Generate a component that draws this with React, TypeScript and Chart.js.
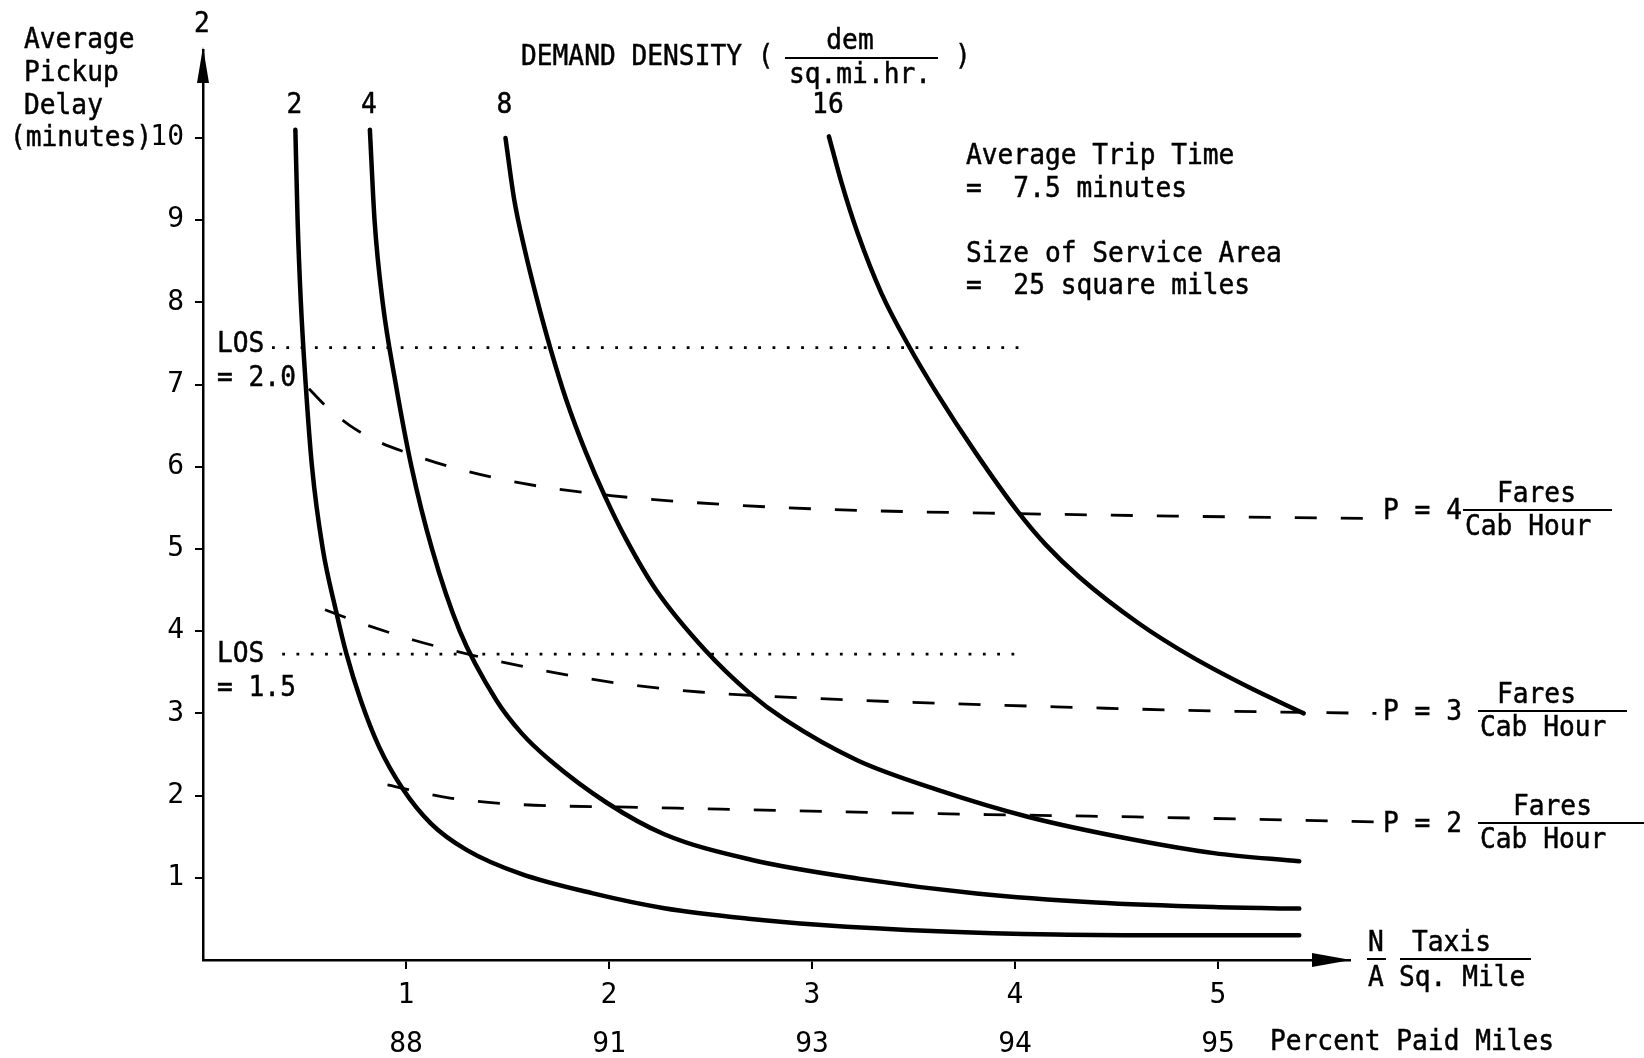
import React, { useEffect, useRef } from 'react';
import { Chart, registerables } from 'chart.js';

Chart.register(...registerables);

// ---- Data (taxis per sq. mile vs average pickup delay, minutes) ----
const D2_X = [0.455, 0.466, 0.482, 0.506, 0.537, 0.59, 0.655, 0.706, 0.777, 0.868, 0.982, 1.123, 1.298, 1.563, 1.921, 2.272, 2.70, 3.03, 3.62, 4.20, 4.79, 5.40];
const D2_Y = [10.1, 9.0, 8.0, 7.0, 6.0, 5.0, 4.25, 3.73, 3.16, 2.59, 2.09, 1.66, 1.34, 1.05, 0.81, 0.63, 0.50, 0.43, 0.35, 0.31, 0.30, 0.30];

const D4_X = [0.822, 0.845, 0.885, 0.950, 1.027, 1.128, 1.265, 1.445, 1.569, 1.709, 1.991, 2.272, 2.70, 3.23, 3.81, 4.40, 4.98, 5.40];
const D4_Y = [10.1, 9.0, 8.0, 7.0, 6.0, 5.0, 4.0, 3.16, 2.76, 2.43, 1.91, 1.53, 1.22, 0.99, 0.81, 0.70, 0.645, 0.625];

const D8_X = [1.49, 1.533, 1.585, 1.646, 1.709, 1.790, 1.882, 1.980, 2.086, 2.232, 2.473, 2.691, 2.869, 3.222, 3.619, 4.067, 4.593, 4.98, 5.40];
const D8_Y = [10.0, 9.25, 8.64, 8.03, 7.46, 6.81, 6.20, 5.64, 5.11, 4.50, 3.77, 3.25, 2.92, 2.43, 2.07, 1.74, 1.46, 1.30, 1.20];

const D16_X = [3.083, 3.146, 3.225, 3.342, 3.479, 3.616, 3.809, 4.009, 4.152, 4.316, 4.607, 4.869, 5.150, 5.422];
const D16_Y = [10.02, 9.45, 8.84, 8.11, 7.46, 6.89, 6.16, 5.47, 5.05, 4.66, 4.10, 3.69, 3.32, 3.00];

const P4_X = [0.522, 0.60, 0.724, 0.86, 1.005, 1.217, 1.569, 2.008, 2.645, 3.23, 4.008, 4.787, 5.75];
const P4_Y = [6.95, 6.75, 6.50, 6.31, 6.17, 6.00, 5.80, 5.65, 5.53, 5.47, 5.43, 5.40, 5.37];

const P3_X = [0.601, 0.777, 1.04, 1.393, 1.744, 2.096, 2.448, 2.70, 3.424, 4.20, 4.98, 5.78];
const P3_Y = [4.26, 4.10, 3.89, 3.67, 3.49, 3.35, 3.26, 3.22, 3.14, 3.08, 3.03, 3.00];

const P2_X = [0.909, 1.217, 1.569, 2.096, 2.645, 3.619, 4.593, 5.78];
const P2_Y = [2.13, 1.97, 1.89, 1.86, 1.83, 1.78, 1.74, 1.68];

const LOS20_X = [0.34, 4.03];
const LOS20_Y = [7.45, 7.45];
const LOS15_X = [0.39, 4.05];
const LOS15_Y = [3.72, 3.72];

const Y_TICKS = [1, 2, 3, 4, 5, 6, 7, 8, 9, 10];
const X_TICKS = [1, 2, 3, 4, 5];
const PERCENT_PAID = ['88', '91', '93', '94', '95'];
const DEMAND_LABELS = ['2', '4', '8', '16'];
const FARE_LEVELS = ['4', '3', '2'];

const FONT = '"DejaVu Sans Mono", monospace';

const zip = (xs: number[], ys: number[]) => xs.map((x, i) => ({ x, y: ys[i] }));

const solid = (label: string, xs: number[], ys: number[]) => ({
  label,
  data: zip(xs, ys),
  borderColor: '#000',
  borderWidth: 4.5,
  pointRadius: 0,
  fill: false,
  clip: false as const,
  cubicInterpolationMode: 'monotone' as const,
  borderCapStyle: 'round' as const,
});

const dashed = (label: string, xs: number[], ys: number[]) => ({
  label,
  data: zip(xs, ys),
  borderColor: '#000',
  borderWidth: 2.8,
  borderDash: [22, 24],
  pointRadius: 0,
  fill: false,
  clip: false as const,
  cubicInterpolationMode: 'monotone' as const,
});

const dotted = (label: string, xs: number[], ys: number[]) => ({
  label,
  data: zip(xs, ys),
  borderColor: '#000',
  borderWidth: 2.8,
  borderDash: [2.8, 11.5],
  pointRadius: 0,
  fill: false,
  clip: false as const,
  tension: 0,
});

function drawText(ctx: CanvasRenderingContext2D, s: string, x: number, y: number, align: CanvasTextAlign = 'left') {
  ctx.save();
  ctx.font = `28.5px ${FONT}`;
  ctx.textBaseline = 'middle';
  ctx.textAlign = align;
  ctx.fillStyle = '#000';
  ctx.strokeStyle = '#000';
  ctx.lineWidth = 0.5;
  ctx.translate(x, y + 2);
  ctx.scale(0.92, 1);
  ctx.fillText(s, 0, 0);
  ctx.strokeText(s, 0, 0);
  ctx.restore();
}

function hline(ctx: CanvasRenderingContext2D, x1: number, x2: number, y: number, w = 2) {
  ctx.save();
  ctx.strokeStyle = '#000';
  ctx.lineWidth = w;
  ctx.beginPath();
  ctx.moveTo(x1, y);
  ctx.lineTo(x2, y);
  ctx.stroke();
  ctx.restore();
}

const annotations = {
  id: 'annotations',
  afterDraw(chart: any) {
    const { ctx, chartArea, scales } = chart;
    const { left, right, top, bottom } = chartArea;
    const xs = scales.x;
    ctx.save();
    ctx.fillStyle = '#000';
    // arrowheads
    ctx.beginPath();
    ctx.moveTo(left, top - 3);
    ctx.lineTo(left - 6, top + 33);
    ctx.lineTo(left + 6, top + 33);
    ctx.closePath();
    ctx.fill();
    ctx.beginPath();
    ctx.moveTo(right + 1, bottom);
    ctx.lineTo(right - 38, bottom - 7);
    ctx.lineTo(right - 38, bottom + 7);
    ctx.closePath();
    ctx.fill();
    ctx.restore();

    // y-axis title
    drawText(ctx, '2', 202, 23, 'center');
    drawText(ctx, 'Average', 24, 39);
    drawText(ctx, 'Pickup', 24, 72);
    drawText(ctx, 'Delay', 24, 105);
    drawText(ctx, '(minutes)', 10, 137);

    // demand density header
    drawText(ctx, 'DEMAND DENSITY (', 521, 56);
    drawText(ctx, 'dem', 850, 40, 'center');
    hline(ctx, 785, 938, 58);
    drawText(ctx, 'sq.mi.hr.', 860, 74, 'center');
    drawText(ctx, ')', 955, 56);

    // curve labels
    const firstX = [D2_X[0], D4_X[0], D8_X[0], D16_X[0]];
    DEMAND_LABELS.forEach((lab, i) => {
      drawText(ctx, lab, xs.getPixelForValue(firstX[i]) - 1, 104, 'center');
    });

    // notes
    drawText(ctx, 'Average Trip Time', 966, 155);
    drawText(ctx, '=  7.5 minutes', 966, 188);
    drawText(ctx, 'Size of Service Area', 966, 253);
    drawText(ctx, '=  25 square miles', 966, 285);

    // LOS labels
    drawText(ctx, 'LOS', 217, 343);
    drawText(ctx, '= 2.0', 217, 377);
    drawText(ctx, 'LOS', 217, 653);
    drawText(ctx, '= 1.5', 217, 687);

    // fare labels
    const fareRows = [
      { y: 510, lineX: [1463, 1612], faresX: 1497, cabX: 1465 },
      { y: 711, lineX: [1478, 1627], faresX: 1497, cabX: 1480 },
      { y: 823, lineX: [1478, 1644], faresX: 1513, cabX: 1480 },
    ];
    fareRows.forEach((r, i) => {
      drawText(ctx, `P = ${FARE_LEVELS[i]}`, 1383, r.y);
      hline(ctx, r.lineX[0], r.lineX[1], r.y, 2);
      drawText(ctx, 'Fares', r.faresX, r.y - 17);
      drawText(ctx, 'Cab Hour', r.cabX, r.y + 16);
    });

    // x-axis title
    drawText(ctx, 'N', 1376, 942, 'center');
    hline(ctx, 1367, 1386, 959, 2);
    drawText(ctx, 'A', 1376, 977, 'center');
    drawText(ctx, 'Taxis', 1412, 942);
    hline(ctx, 1400, 1531, 959, 2);
    drawText(ctx, 'Sq. Mile', 1399, 977);
    drawText(ctx, 'Percent Paid Miles', 1270, 1041);
  },
};

export default function App() {
  const ref = useRef<HTMLCanvasElement | null>(null);

  useEffect(() => {
    if (!ref.current) return;
    const chart = new Chart(ref.current, {
      type: 'line',
      data: {
        datasets: [
          solid('2', D2_X, D2_Y),
          solid('4', D4_X, D4_Y),
          solid('8', D8_X, D8_Y),
          solid('16', D16_X, D16_Y),
          dashed('P = 4', P4_X, P4_Y),
          dashed('P = 3', P3_X, P3_Y),
          dashed('P = 2', P2_X, P2_Y),
          dotted('LOS = 2.0', LOS20_X, LOS20_Y),
          dotted('LOS = 1.5', LOS15_X, LOS15_Y),
        ] as any,
      },
      options: {
        responsive: false,
        maintainAspectRatio: false,
        animation: false,
        events: [],
        layout: { padding: { left: 0, right: 294, top: 50, bottom: 0 } },
        plugins: { legend: { display: false }, tooltip: { enabled: false } },
        scales: {
          x: {
            type: 'linear',
            position: 'bottom',
            min: 0,
            max: 5.65,
            afterBuildTicks: (s: any) => {
              s.ticks = X_TICKS.map((value) => ({ value }));
            },
            afterFit: (s: any) => {
              s.height = 98;
            },
            grid: { display: true, drawOnChartArea: false, drawTicks: true, tickLength: 9, color: '#000', lineWidth: 2 },
            border: { display: true, color: '#000', width: 2.5 },
            ticks: {
              color: '#000',
              font: { family: FONT, size: 28, lineHeight: '49px' },
              padding: 2,
              maxRotation: 0,
              autoSkip: false,
              callback: (v: any) => {
                const i = X_TICKS.indexOf(Number(v));
                return i >= 0 ? [String(X_TICKS[i]), PERCENT_PAID[i]] : '';
              },
            },
          },
          y: {
            type: 'linear',
            min: 0,
            max: 11.07,
            afterBuildTicks: (s: any) => {
              s.ticks = Y_TICKS.map((value) => ({ value }));
            },
            afterFit: (s: any) => {
              s.width = 203;
            },
            grid: { display: true, drawOnChartArea: false, drawTicks: true, tickLength: 8, color: '#000', lineWidth: 2 },
            border: { display: true, color: '#000', width: 2.5 },
            ticks: {
              color: '#000',
              font: { family: FONT, size: 28 },
              padding: 11,
              autoSkip: false,
              callback: (v: any) => String(v),
            },
          },
        },
      } as any,
      plugins: [annotations],
    });
    return () => chart.destroy();
  }, []);

  return (
    <div style={{ position: 'fixed', left: 0, top: 0, width: 1644, height: 1058, background: '#fff' }}>
      <canvas ref={ref} width={1644} height={1058} style={{ display: 'block' }} />
    </div>
  );
}
